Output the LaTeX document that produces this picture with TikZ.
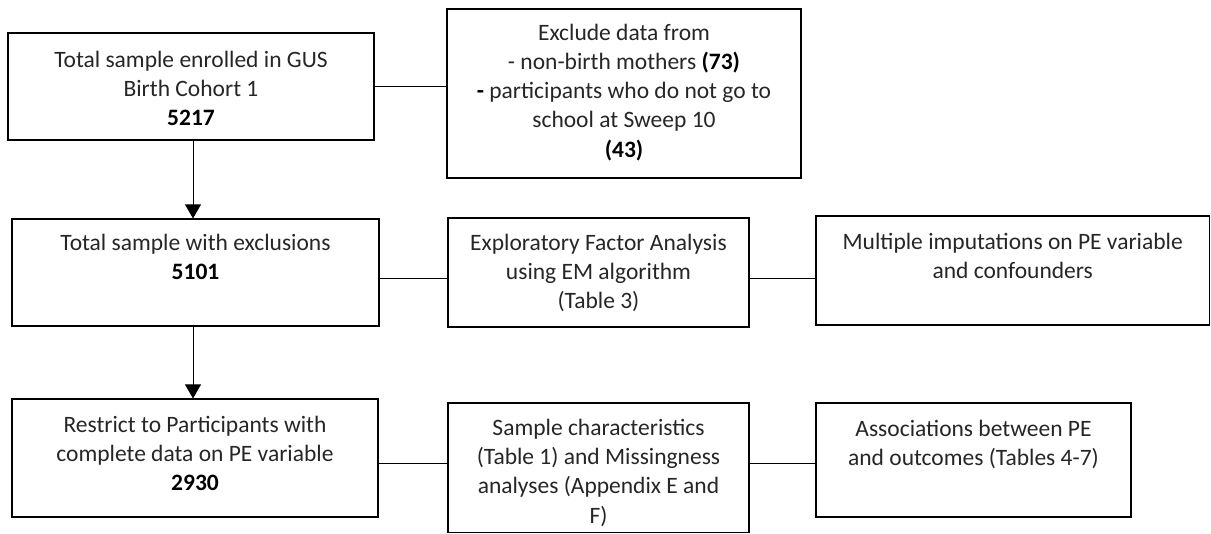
\documentclass[tikz,border=0pt]{standalone}
\usepackage{fontspec}
\setmainfont{Carlito}
\usetikzlibrary{arrows.meta}
\definecolor{txt}{HTML}{262626}
\begin{document}
\begin{tikzpicture}[x=1pt,y=-1pt,
  box/.style={draw=black, line width=1.2pt, rectangle, inner sep=0pt},
  txtn/.style={align=center, inner sep=0pt, anchor=north, text=txt,
    font=\fontsize{23.5}{29.3}\selectfont},
  conn/.style={draw=black, line width=0.9pt},
  arr/.style={conn, -{Triangle[length=14pt,width=16pt]}}]
\useasboundingbox (0,0) rectangle (1211,534);
% boxes
\node[box, minimum width=366pt, minimum height=107pt] (A) at (191,86.5) {};
\node[box, minimum width=354pt, minimum height=169pt] (B) at (624,93.5) {};
\node[box, minimum width=367pt, minimum height=107pt] (E2) at (195.5,272.5) {};
\node[box, minimum width=301pt, minimum height=109pt] (C) at (598.5,272.5) {};
\node[box, minimum width=393.5pt, minimum height=109pt] (D) at (1012.75,270.5) {};
\node[box, minimum width=366pt, minimum height=118pt] (E3) at (195,458) {};
\node[box, minimum width=301pt, minimum height=129.5pt] (G) at (598.5,467.75) {};
\node[box, minimum width=315pt, minimum height=114pt] (F) at (973.5,460) {};
% texts
\node[txtn, yshift=-14.5pt] (tA) at (A.north) {\rule{0pt}{20pt}Total sample enrolled in GUS\\Birth Cohort 1\\\textbf{\color{black}5217}};
\node[txtn, yshift=-11.5pt] (tB) at (B.north) {\rule{0pt}{20pt}Exclude data from\\- non-birth mothers \textbf{\color{black}(73)}\\\textbf{\color{black}-} participants who do not go to\\school at Sweep 10\\\textbf{\color{black}(43)}};
\node[txtn, yshift=-11.5pt] (tE2) at (E2.north) {\rule{0pt}{20pt}Total sample with exclusions\\\textbf{\color{black}5101}};
\node[txtn, yshift=-12.5pt] (tC) at (C.north) {\rule{0pt}{20pt}Exploratory Factor Analysis\\using EM algorithm\\(Table 3)};
\node[txtn, yshift=-13.5pt] (tD) at (D.north) {\rule{0pt}{20pt}Multiple imputations on PE variable\\and confounders};
\node[txtn, yshift=-13.5pt] (tE3) at (E3.north) {\rule{0pt}{20pt}Restrict to Participants with\\complete data on PE variable\\\textbf{\color{black}2930}};
\node[txtn, yshift=-12.5pt] (tG) at (G.north) {\rule{0pt}{20pt}Sample characteristics\\(Table 1) and Missingness\\analyses (Appendix E and\\F)};
\node[txtn, yshift=-13.5pt] (tF) at (F.north) {\rule{0pt}{20pt}Associations between PE\\and outcomes (Tables 4-7)};
% connectors
\draw[conn] (A.east) -- (A.east -| B.west);
\draw[conn] ([yshift=-5.5pt]E2.east) -- ([yshift=-5.5pt]E2.east -| C.west);
\draw[conn] ([yshift=-5.5pt]C.east) -- ([yshift=-5.5pt]C.east -| D.west);
\draw[conn] ([yshift=-5pt]E3.east) -- ([yshift=-5pt]E3.east -| G.west);
\draw[conn] ([yshift=4.75pt]G.east) -- ([yshift=4.75pt]G.east -| F.west);
\draw[arr] ([xshift=2pt]A.south) -- ([xshift=2pt]A.south |- E2.north);
\draw[arr] ([xshift=-2.5pt]E2.south) -- ([xshift=-2.5pt]E2.south |- E3.north);
\end{tikzpicture}
\end{document}
